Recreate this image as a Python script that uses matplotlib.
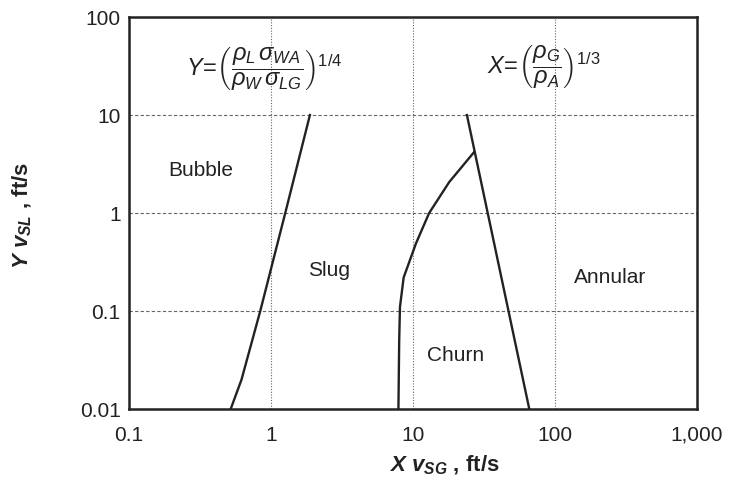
import matplotlib
matplotlib.use('Agg')
import matplotlib.pyplot as plt

plt.rcParams['font.family'] = ['Liberation Sans', 'DejaVu Sans']
plt.rcParams['mathtext.fontset'] = 'custom'
plt.rcParams['mathtext.rm'] = 'Liberation Sans'
plt.rcParams['mathtext.it'] = 'Liberation Sans:italic'
plt.rcParams['mathtext.bf'] = 'Liberation Sans:bold'
plt.rcParams['mathtext.bfit'] = 'Liberation Sans:italic:bold'

# bubble / slug boundary
bs_x = [0.52, 0.62, 0.84, 1.26, 1.88]
bs_y = [0.01, 0.02, 0.1, 1.0, 10.0]

# slug / churn boundary
sc_x = [7.9, 8.0, 8.1, 8.6, 10.5, 13.0, 18.0, 27.0]
sc_y = [0.01, 0.05, 0.11, 0.22, 0.49, 1.0, 2.07, 4.2]

# churn / annular boundary
ca_x = [24.0, 66.0]
ca_y = [10.0, 0.01]

regions = ['Bubble', 'Slug', 'Churn', 'Annular']
reg_x = [0.32, 2.56, 20.0, 245.0]
reg_y = [2.7, 0.26, 0.035, 0.22]

xticks = [0.1, 1, 10, 100, 1000]
xlabels = ['0.1', '1', '10', '100', '1,000']
yticks = [0.01, 0.1, 1, 10, 100]
ylabels = ['0.01', '0.1', '1', '10', '100']

ink = '#222222'

fig = plt.figure(figsize=(7.39, 4.87), dpi=100)
ax = fig.add_axes([0.1746, 0.160, 0.7684, 0.805])
ax.set_xscale('log')
ax.set_yscale('log')
ax.set_xlim(0.1, 1000)
ax.set_ylim(0.01, 100)

for v in [1, 10, 100]:
    ax.axvline(v, color='#666666', lw=0.8, ls=(0, (1, 1.5)), zorder=1)
for v in [0.1, 1, 10]:
    ax.axhline(v, color='#666666', lw=0.8, ls=(0, (3, 2)), zorder=1)

ax.plot(bs_x, bs_y, color=ink, lw=1.7, zorder=3)
ax.plot(sc_x, sc_y, color=ink, lw=1.7, zorder=3)
ax.plot(ca_x, ca_y, color=ink, lw=1.7, zorder=3)

for name, x, y in zip(regions, reg_x, reg_y):
    ax.text(x, y, name, fontsize=15, ha='center', va='center', color=ink)

ax.text(0.89, 29, r'$Y\!=\!\left(\dfrac{\rho_L\,\sigma_{WA}}{\rho_W\,\sigma_{LG}}\right)^{1/4}$',
        fontsize=17, ha='center', va='center', color=ink)
ax.text(84, 31, r'$X\!=\!\left(\dfrac{\rho_G}{\rho_A}\right)^{1/3}$',
        fontsize=17, ha='center', va='center', color=ink)

ax.set_xticks(xticks)
ax.set_xticklabels(xlabels)
ax.set_yticks(yticks)
ax.set_yticklabels(ylabels)
ax.minorticks_off()
ax.tick_params(length=0, labelsize=15, colors=ink)
ax.tick_params(axis='x', pad=12)
ax.tick_params(axis='y', pad=6)

for s in ax.spines.values():
    s.set_linewidth(1.8)
    s.set_color(ink)

ax.set_xlabel(r'$\mathbfit{X\ v_{SG}}$ , ft/s', fontsize=16, fontweight='bold', color=ink)
ax.set_ylabel(r'$\mathbfit{Y\ v_{SL}}$ , ft/s', fontsize=16, fontweight='bold', color=ink)
ax.xaxis.set_label_coords(0.556, -0.115)
ax.yaxis.set_label_coords(-0.168, 0.495)

fig.savefig('out.png', dpi=100)
